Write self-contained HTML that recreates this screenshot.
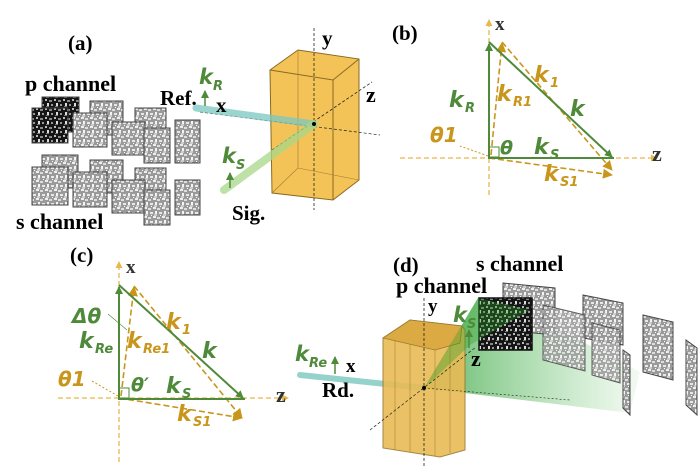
<!DOCTYPE html>
<html><head><meta charset="utf-8"><style>
html,body{margin:0;padding:0;background:#fff;}
svg{display:block;}
text{font-family:"Liberation Serif",serif;font-weight:bold;}
.g{fill:#4e8a3a;font-style:italic;font-family:"DejaVu Sans",sans-serif;}
.o{fill:#c9961c;font-style:italic;font-family:"DejaVu Sans",sans-serif;}
</style></head><body>
<svg width="700" height="467" viewBox="0 0 700 467" xmlns="http://www.w3.org/2000/svg">
<defs>
<pattern id="nz" width="9" height="9" patternUnits="userSpaceOnUse">
<rect width="9" height="9" fill="#9a9a9a"/>
<rect x="0" y="0" width="3" height="2" fill="#eee"/><rect x="4" y="1" width="3" height="2" fill="#ddd"/>
<rect x="2" y="4" width="2" height="3" fill="#f4f4f4"/><rect x="6" y="5" width="3" height="2" fill="#e8e8e8"/>
<rect x="1" y="7" width="3" height="2" fill="#ccc"/><rect x="7" y="8" width="1" height="1" fill="#fff"/>
</pattern>
<pattern id="nzd" width="9" height="9" patternUnits="userSpaceOnUse">
<rect width="9" height="9" fill="#151515"/>
<rect x="0" y="0" width="2" height="2" fill="#bbb"/><rect x="4" y="1" width="3" height="2" fill="#888"/>
<rect x="2" y="4" width="2" height="3" fill="#ddd"/><rect x="6" y="5" width="2" height="2" fill="#999"/>
<rect x="1" y="7" width="3" height="1" fill="#777"/>
</pattern>
<linearGradient id="fan" x1="0" y1="0" x2="1" y2="0">
<stop offset="0" stop-color="#1f9a2a" stop-opacity="0.95"/><stop offset="1" stop-color="#5cc05c" stop-opacity="0.1"/>
</linearGradient>
<marker id="ag" markerWidth="8" markerHeight="8" refX="7" refY="4" orient="auto" markerUnits="userSpaceOnUse"><path d="M0,0 L8,4 L0,8 z" fill="#4e8a3a"/></marker>
<marker id="ao" markerWidth="10" markerHeight="10" refX="9" refY="5" orient="auto" markerUnits="userSpaceOnUse"><path d="M0,0 L10,5 L0,10 z" fill="#c9961c"/></marker>
<marker id="al" markerWidth="7" markerHeight="7" refX="6" refY="3.5" orient="auto" markerUnits="userSpaceOnUse"><path d="M0,0 L7,3.5 L0,7 z" fill="#e8b84a"/></marker>
</defs>

<!-- (a) -->
<text x="68" y="50" font-size="21">(a)</text>
<text x="25" y="91" font-size="22">p channel</text>
<text x="16" y="229" font-size="22">s channel</text>
<g stroke="#444" stroke-width="1">
<rect x="42" y="97" width="37" height="35" fill="url(#nzd)"/>
<rect x="32" y="108" width="36" height="35" fill="url(#nzd)"/>
<rect x="90" y="101" width="33" height="34" fill="url(#nz)"/>
<rect x="73" y="113" width="34" height="34" fill="url(#nz)"/>
<rect x="135" y="108" width="31" height="32" fill="url(#nz)"/>
<rect x="112" y="122" width="33" height="33" fill="url(#nz)"/>
<rect x="144" y="128" width="26" height="35" fill="url(#nz)"/>
<rect x="175" y="120" width="25" height="43" fill="url(#nz)"/>
<rect x="42" y="155" width="36" height="33" fill="url(#nz)"/>
<rect x="32" y="167" width="36" height="38" fill="url(#nz)"/>
<rect x="90" y="160" width="33" height="33" fill="url(#nz)"/>
<rect x="73" y="172" width="34" height="35" fill="url(#nz)"/>
<rect x="135" y="168" width="31" height="32" fill="url(#nz)"/>
<rect x="112" y="180" width="33" height="33" fill="url(#nz)"/>
<rect x="144" y="190" width="26" height="35" fill="url(#nz)"/>
<rect x="175" y="180" width="25" height="35" fill="url(#nz)"/>
</g>
<!-- cube -->
<polygon points="270,70 298,50 359,59 359,180 333,200 272,193" fill="#f3c358" stroke="#8a6a20" stroke-width="1"/>
<polyline points="270,70 333,80 359,59" fill="none" stroke="#8a6a20"/>
<line x1="333" y1="80" x2="333" y2="200" stroke="#8a6a20"/>
<polyline points="298,50 298,168 272,193" fill="none" stroke="#a07a30" stroke-width="0.6"/>
<line x1="298" y1="168" x2="359" y2="180" stroke="#a07a30" stroke-width="0.6"/>
<line x1="314" y1="28" x2="314" y2="210" stroke="#222" stroke-dasharray="3,2" stroke-width="0.8"/>
<line x1="272" y1="150" x2="372" y2="82" stroke="#222" stroke-dasharray="3,2" stroke-width="0.8"/>
<line x1="200" y1="112" x2="380" y2="135" stroke="#222" stroke-dasharray="3,2" stroke-width="0.7"/>
<line x1="196" y1="108" x2="314" y2="124" stroke="#7cc7c0" stroke-width="7" stroke-linecap="round" opacity="0.75"/>
<line x1="224" y1="190" x2="314" y2="124" stroke="#a9d88a" stroke-width="8" stroke-linecap="round" opacity="0.75"/>
<circle cx="314" cy="124" r="2" fill="#000"/>
<text x="322" y="45" font-size="21">y</text>
<text x="366" y="102" font-size="22">z</text>
<text x="216" y="112" font-size="21">x</text>
<text x="160" y="105" font-size="21">Ref.</text>
<text x="232" y="220" font-size="21">Sig.</text>
<text class="g" x="199" y="84" font-size="21">k</text><text class="g" x="213" y="90" font-size="13">R</text>
<line x1="205" y1="106" x2="205" y2="91" stroke="#4e8a3a" stroke-width="1.5" marker-end="url(#ag)"/>
<text class="g" x="222" y="163" font-size="21">k</text><text class="g" x="236" y="169" font-size="13">S</text>
<line x1="230" y1="188" x2="230" y2="173" stroke="#4e8a3a" stroke-width="1.5" marker-end="url(#ag)"/>

<!-- (b) -->
<text x="392" y="40" font-size="21">(b)</text>
<line x1="489" y1="195" x2="489" y2="20" stroke="#e8b84a" stroke-dasharray="5,3" stroke-width="1.3" marker-end="url(#al)"/>
<line x1="400" y1="158" x2="657" y2="158" stroke="#e8b84a" stroke-dasharray="5,3" stroke-width="1.3" marker-end="url(#al)"/>
<line x1="502" y1="42" x2="612" y2="170" stroke="#c9961c" stroke-width="1.6" stroke-dasharray="6,3" marker-end="url(#ao)"/>
<line x1="489" y1="158" x2="612" y2="175" stroke="#c9961c" stroke-width="1.6" stroke-dasharray="6,3" marker-end="url(#ao)"/>
<line x1="491" y1="155" x2="502" y2="43" stroke="#c9961c" stroke-width="1.6" stroke-dasharray="6,3" marker-end="url(#ao)"/>
<polyline points="614,158 489,158 489,44" fill="none" stroke="#4e8a3a" stroke-width="2" marker-end="url(#ag)"/>
<line x1="489" y1="42" x2="612" y2="157" stroke="#4e8a3a" stroke-width="2" marker-end="url(#ag)"/>
<rect x="489" y="147" width="10" height="10" fill="none" stroke="#4e8a3a"/>
<text x="495" y="30" font-size="19" fill="#333">x</text>
<text x="652" y="161" font-size="22" fill="#333">z</text>
<text class="g" x="449" y="107" font-size="22">k</text><text class="g" x="465" y="112" font-size="13">R</text>
<text class="o" x="497" y="101" font-size="22">k</text><text class="o" x="513" y="106" font-size="13">R1</text>
<text class="o" x="534" y="82" font-size="22">k</text><text class="o" x="550" y="87" font-size="13">1</text>
<text class="g" x="570" y="116" font-size="22">k</text>
<text class="g" x="500" y="154" font-size="19">θ</text>
<text class="g" x="534" y="154" font-size="22">k</text><text class="g" x="550" y="159" font-size="13">S</text>
<text class="o" x="544" y="181" font-size="22">k</text><text class="o" x="560" y="186" font-size="13">S1</text>
<text class="o" x="430" y="142" font-size="20">θ1</text>
<line x1="488" y1="156" x2="460" y2="146" stroke="#c9961c" stroke-dasharray="2,2"/>

<!-- (c) -->
<text x="70" y="262" font-size="21">(c)</text>
<line x1="119" y1="462" x2="119" y2="262" stroke="#e8b84a" stroke-dasharray="5,3" stroke-width="1.3" marker-end="url(#al)"/>
<line x1="58" y1="398" x2="288" y2="398" stroke="#e8b84a" stroke-dasharray="5,3" stroke-width="1.3" marker-end="url(#al)"/>
<line x1="134" y1="286" x2="242" y2="418" stroke="#c9961c" stroke-width="1.6" stroke-dasharray="6,3" marker-end="url(#ao)"/>
<line x1="119" y1="398" x2="242" y2="418" stroke="#c9961c" stroke-width="1.6" stroke-dasharray="6,3" marker-end="url(#ao)"/>
<line x1="121" y1="396" x2="134" y2="287" stroke="#c9961c" stroke-width="1.6" stroke-dasharray="6,3" marker-end="url(#ao)"/>
<polyline points="245,399 119,399 119,287" fill="none" stroke="#4e8a3a" stroke-width="2" marker-end="url(#ag)"/>
<line x1="119" y1="285" x2="243" y2="398" stroke="#4e8a3a" stroke-width="2" marker-end="url(#ag)"/>
<rect x="119" y="388" width="10" height="10" fill="none" stroke="#4e8a3a"/>
<text x="126" y="273" font-size="19" fill="#333">x</text>
<text x="276" y="402" font-size="22" fill="#333">z</text>
<text class="g" x="72" y="323" font-size="20">Δθ</text>
<line x1="108" y1="314" x2="127" y2="330" stroke="#4e8a3a" stroke-width="0.6"/>
<text class="g" x="79" y="348" font-size="22">k</text><text class="g" x="95" y="353" font-size="13">Re</text>
<text class="o" x="127" y="348" font-size="22">k</text><text class="o" x="143" y="353" font-size="13">Re1</text>
<text class="o" x="166" y="329" font-size="22">k</text><text class="o" x="182" y="334" font-size="13">1</text>
<text class="g" x="202" y="358" font-size="22">k</text>
<text class="g" x="131" y="391" font-size="19">θ′</text>
<text class="g" x="166" y="393" font-size="22">k</text><text class="g" x="182" y="398" font-size="13">S</text>
<text class="o" x="177" y="421" font-size="22">k</text><text class="o" x="193" y="426" font-size="13">S1</text>
<text class="o" x="58" y="386" font-size="20">θ1</text>
<line x1="118" y1="396" x2="92" y2="381" stroke="#c9961c" stroke-dasharray="2,2"/>

<!-- (d) -->
<text x="393" y="272" font-size="21">(d)</text>
<text x="476" y="271" font-size="22">s channel</text>
<text x="396" y="293" font-size="22">p channel</text>
<polygon points="424,388 478,298 530,310 560,330 640,372 630,413" fill="url(#fan)" opacity="0.75"/>
<g stroke="#444" stroke-width="1">
<polygon points="503,283 555,288 555,335 503,330" fill="url(#nz)"/>
<polygon points="583,295 623,303 623,345 583,338" fill="url(#nz)"/>
<polygon points="643,315 673,322 673,380 643,372" fill="url(#nz)"/>
<polygon points="686,340 697,348 697,415 686,405" fill="url(#nz)"/>
<polygon points="543,305 585,315 585,371 543,360" fill="url(#nz)" opacity="0.85"/>
<polygon points="592,323 620,330 620,383 592,375" fill="url(#nz)" opacity="0.85"/>
<polygon points="623,350 630,355 630,415 623,408" fill="url(#nz)"/>
<rect x="479" y="298" width="53" height="52" fill="url(#nzd)" stroke="#111" stroke-width="1.5"/>
</g>
<line x1="300" y1="375" x2="424" y2="388" stroke="#7cc7c0" stroke-width="6" stroke-linecap="round" opacity="0.8"/>
<polygon points="383,338 410,320 462,326 465,330 465,450 440,457 383,448" fill="#e8bb55" stroke="#9a7a30" opacity="0.9"/>
<polygon points="383,338 410,320 462,326 460,343 435,350" fill="#dcaa42" stroke="#9a7a30" stroke-width="0.8"/>
<g stroke="#a07a30" stroke-width="0.5"><line x1="395" y1="340" x2="395" y2="450"/><line x1="410" y1="344" x2="410" y2="452"/><line x1="435" y1="350" x2="435" y2="456"/><line x1="450" y1="345" x2="450" y2="453"/></g>
<polygon points="424,388 478,298 530,310 470,345" fill="#2aa12a" opacity="0.35"/>
<line x1="424" y1="298" x2="424" y2="467" stroke="#222" stroke-dasharray="3,2" stroke-width="0.8"/>
<line x1="370" y1="430" x2="476" y2="347" stroke="#222" stroke-dasharray="3,2" stroke-width="0.7"/>
<line x1="424" y1="388" x2="570" y2="400" stroke="#222" stroke-dasharray="2,2" stroke-width="0.6"/>
<circle cx="424" cy="388" r="2" fill="#000"/>
<text x="428" y="312" font-size="19">y</text>
<text x="471" y="366" font-size="22">z</text>
<text x="346" y="372" font-size="19">x</text>
<text x="322" y="397" font-size="21">Rd.</text>
<text class="g" x="295" y="361" font-size="21">k</text><text class="g" x="309" y="367" font-size="13">Re</text>
<line x1="335" y1="374" x2="335" y2="357" stroke="#4e8a3a" stroke-width="1.5" marker-end="url(#ag)"/>
<text class="g" x="453" y="322" font-size="21">k</text><text class="g" x="467" y="328" font-size="13">S</text>
<line x1="469" y1="348" x2="469" y2="330" stroke="#4e8a3a" stroke-width="1.5" marker-end="url(#ag)"/>
</svg>
</body></html>
